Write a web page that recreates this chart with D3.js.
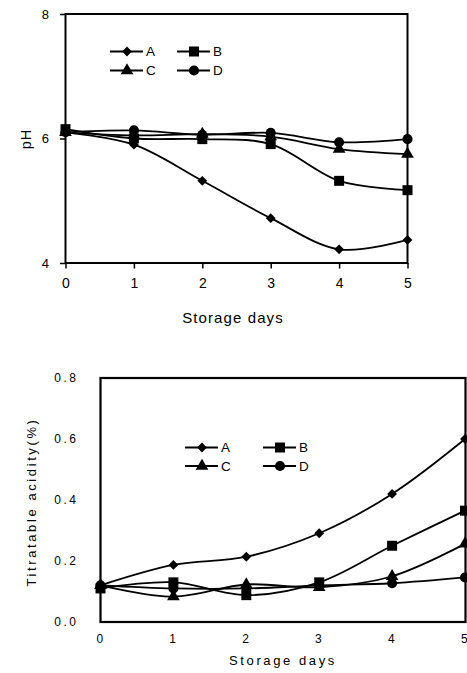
<!DOCTYPE html>
<html><head><meta charset="utf-8">
<script src="https://cdn.jsdelivr.net/npm/d3@7"></script>
<style>
html,body{margin:0;padding:0;background:#fff;}
svg{display:block;font-family:"Liberation Sans",Arial,sans-serif;}
</style></head>
<body>
<svg id="c" width="467" height="673"></svg>
<script>
const days = [0, 1, 2, 3, 4, 5];
const seriesNames = ["A", "B", "C", "D"];
const phA = [6.10, 5.90, 5.32, 4.72, 4.22, 4.37];
const phB = [6.15, 6.00, 5.99, 5.91, 5.32, 5.17];
const phC = [6.10, 6.05, 6.07, 6.03, 5.83, 5.75];
const phD = [6.10, 6.13, 6.06, 6.09, 5.94, 5.99];
const taA = [0.12, 0.187, 0.214, 0.291, 0.42, 0.60];
const taB = [0.11, 0.13, 0.088, 0.13, 0.25, 0.365];
const taC = [0.12, 0.083, 0.123, 0.114, 0.15, 0.256];
const taD = [0.12, 0.11, 0.11, 0.12, 0.127, 0.146];
const phTicks = [4, 6, 8];
const taTicks = [0.0, 0.2, 0.4, 0.6, 0.8];
const xTicks = [0, 1, 2, 3, 4, 5];

const svg = d3.select("#c");
const symbols = {
  A: {type: d3.symbolSquare, size: 48, rot: 45},
  B: {type: d3.symbolSquare, size: 100, rot: 0},
  C: {type: d3.symbolTriangle, size: 70, rot: 0},
  D: {type: d3.symbolCircle, size: 80, rot: 0}
};
function marker(g, name, x, y) {
  const s = symbols[name];
  g.append("path")
    .attr("d", d3.symbol().type(s.type).size(s.size)())
    .attr("transform", `translate(${x},${y}) rotate(${s.rot})`)
    .attr("fill", "#000");
}

function drawChart(cfg) {
  const g = svg.append("g");
  const x = d3.scaleLinear().domain([0, 5]).range(cfg.xr);
  const y = d3.scaleLinear().domain(cfg.yd).range(cfg.yr);
  // frame
  g.append("rect")
    .attr("x", cfg.xr[0]).attr("y", cfg.yr[1])
    .attr("width", cfg.frameRight - cfg.xr[0]).attr("height", cfg.yr[0] - cfg.yr[1])
    .attr("fill", "none").attr("stroke", "#000").attr("stroke-width", cfg.frameW);
  // axes
  const ya = d3.axisLeft(y).tickValues(cfg.yTicks).tickFormat(cfg.yFmt)
    .tickSize(cfg.tick).tickPadding(cfg.yPad);
  const yg = g.append("g").attr("transform", `translate(${cfg.xr[0]},0)`).call(ya);
  const xa = d3.axisBottom(x).tickValues(xTicks).tickFormat(d3.format("d"))
    .tickSize(cfg.tick).tickPadding(cfg.xPad);
  const xg = g.append("g").attr("transform", `translate(0,${cfg.yr[0]})`).call(xa);
  [yg, xg].forEach(a => {
    a.select(".domain").remove();
    a.selectAll(".tick line").attr("stroke", "#000").attr("stroke-width", 1.5);
    a.selectAll("text").attr("fill", "#000").attr("font-family", "Liberation Sans, Arial, sans-serif")
      .style("letter-spacing", cfg.tickLS + "px");
  });
  yg.selectAll("text").attr("font-size", cfg.yFont);
  xg.selectAll("text").attr("font-size", cfg.xFont);
  // lines
  const line = d3.line().x((d, i) => x(days[i])).y(d => y(d)).curve(d3.curveCatmullRom.alpha(0.5));
  cfg.series.forEach((vals, k) => {
    g.append("path").attr("d", line(vals)).attr("fill", "none")
      .attr("stroke", "#000").attr("stroke-width", 1.8);
  });
  cfg.series.forEach((vals, k) => {
    vals.forEach((v, i) => marker(g, seriesNames[k], x(days[i]), y(v)));
  });
  // legend
  seriesNames.forEach((n, k) => {
    const col = k % 2, row = Math.floor(k / 2);
    const lx = cfg.leg.x[col], ly = cfg.leg.y[row];
    g.append("line").attr("x1", lx).attr("x2", lx + 33).attr("y1", ly).attr("y2", ly)
      .attr("stroke", "#000").attr("stroke-width", 1.8);
    marker(g, n, lx + 17, ly);
    g.append("text").attr("x", lx + 36).attr("y", ly).attr("dy", "0.36em")
      .attr("font-size", 13.5).text(n);
  });
  // labels
  g.append("text").attr("x", cfg.xl[0]).attr("y", cfg.xl[1]).attr("text-anchor", "middle")
    .attr("font-size", cfg.xlFont).style("letter-spacing", cfg.xlLS + "px").text("Storage days");
  g.append("text").attr("transform", `translate(${cfg.yl[0]},${cfg.yl[1]}) rotate(-90)`)
    .attr("text-anchor", "middle").attr("dy", "0.36em")
    .attr("font-size", cfg.ylFont).style("letter-spacing", cfg.ylLS + "px").text(cfg.ylab);
}

drawChart({
  xr: [65.5, 407.5], yd: [4, 8], yr: [263, 14], frameRight: 407.5, frameW: 2,
  yTicks: phTicks, yFmt: d3.format("d"), tick: 5.5, yPad: 11, xPad: 10,
  yFont: 13, xFont: 14, tickLS: 0,
  series: [phA, phB, phC, phD],
  leg: {x: [110, 177], y: [51.5, 70.5]},
  xl: [233, 322.5], xlFont: 15, xlLS: 1.1,
  yl: [26, 139], ylFont: 14.5, ylLS: 1, ylab: "pH"
});
drawChart({
  xr: [100.5, 465], yd: [0, 0.8], yr: [622, 378], frameRight: 465.5, frameW: 2.2,
  yTicks: taTicks, yFmt: d3.format(".1f"), tick: 0, yPad: 22, xPad: 12,
  yFont: 12, xFont: 12, tickLS: 2.5,
  series: [taA, taB, taC, taD],
  leg: {x: [185, 263], y: [447.5, 466]},
  xl: [283, 665], xlFont: 13, xlLS: 2.6,
  yl: [31, 502], ylFont: 13, ylLS: 2.6, ylab: "Titratable acidity(%)"
});
</script>
</body></html>
